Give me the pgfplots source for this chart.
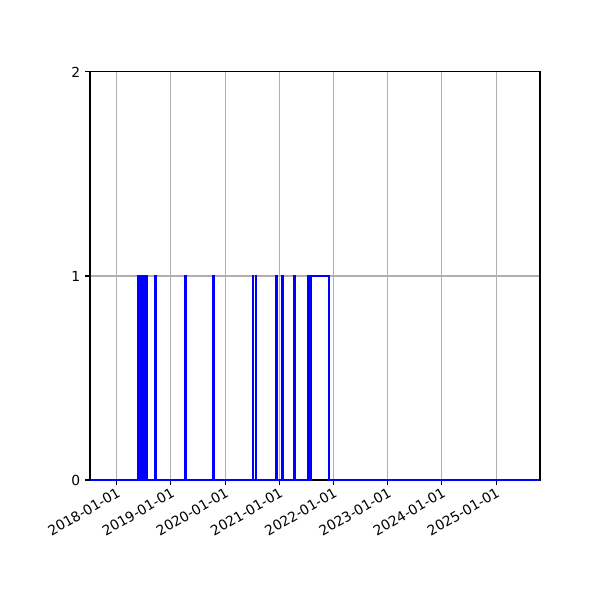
\documentclass[border=0pt]{standalone}
\usepackage{pgfplots}
\pgfplotsset{compat=1.18}
\usepackage{fontspec}
\setmainfont{DejaVu Sans}
\begin{document}
\begin{tikzpicture}[x=1pt,y=1pt]
\begin{axis}[
    scale only axis,
    width=325.2pt, height=294.9pt,
    xmin=2017.507, xmax=2025.81,
    ymin=0, ymax=2,
    xtick={2018,2019,2020,2021,2022,2023,2024,2025},
    xticklabels={2018-01-01,2019-01-01,2020-01-01,2021-01-01,2022-01-01,2023-01-01,2024-01-01,2025-01-01},
    ytick={0,1,2},
    xtick pos=left, ytick pos=left,
    tick align=outside,
    major tick length=3.5pt,
    tick style={black, line width=0.8pt},
    axis line style={line width=0.8pt},
    grid=major,
    major grid style={color=black!31, line width=0.8pt},
    xticklabel style={rotate=30, anchor=north east, inner sep=1pt, font=\fontsize{10}{12}\selectfont},
    yticklabel style={font=\fontsize{10}{12}\selectfont},
    /pgf/number format/assume math mode=true,
    clip=false,
]
\addplot[blue, line width=1.5pt, line join=miter] coordinates {
    (2017.507,0)
    (2018.402,0) (2018.402,1) (2018.421,1) (2018.421,0)
    (2018.430,0) (2018.430,1) (2018.439,1) (2018.439,0)
    (2018.458,0) (2018.458,1) (2018.467,1) (2018.467,0)
    (2018.476,0) (2018.476,1) (2018.485,1) (2018.485,0)
    (2018.495,0) (2018.495,1) (2018.504,1) (2018.504,0)
    (2018.513,0) (2018.513,1) (2018.531,1) (2018.531,0)
    (2018.541,0) (2018.541,1) (2018.550,1) (2018.550,0)
    (2018.716,0) (2018.716,1) (2018.729,1) (2018.729,0)
    (2019.257,0) (2019.257,1) (2019.270,1) (2019.270,0)
    (2019.781,0) (2019.781,1) (2019.796,1) (2019.796,0)
    (2020.508,0) (2020.508,1) (2020.515,1) (2020.515,0)
    (2020.565,0) (2020.565,1) (2020.571,1) (2020.571,0)
    (2020.936,0) (2020.936,1) (2020.949,1) (2020.949,0)
    (2021.050,0) (2021.050,1) (2021.065,1) (2021.065,0)
    (2021.272,0) (2021.272,1) (2021.287,1) (2021.287,0)
    (2021.525,0) (2021.525,1) (2021.539,1) (2021.539,0)
    (2021.586,0) (2021.586,1) (2021.912,1) (2021.912,0)
    (2025.81,0)
};
\end{axis}
\pgfresetboundingbox
\path ([shift={(-65.04pt,-86.72pt)}]current axis.south west) rectangle ++(433.6pt,433.6pt);
\end{tikzpicture}
\end{document}
